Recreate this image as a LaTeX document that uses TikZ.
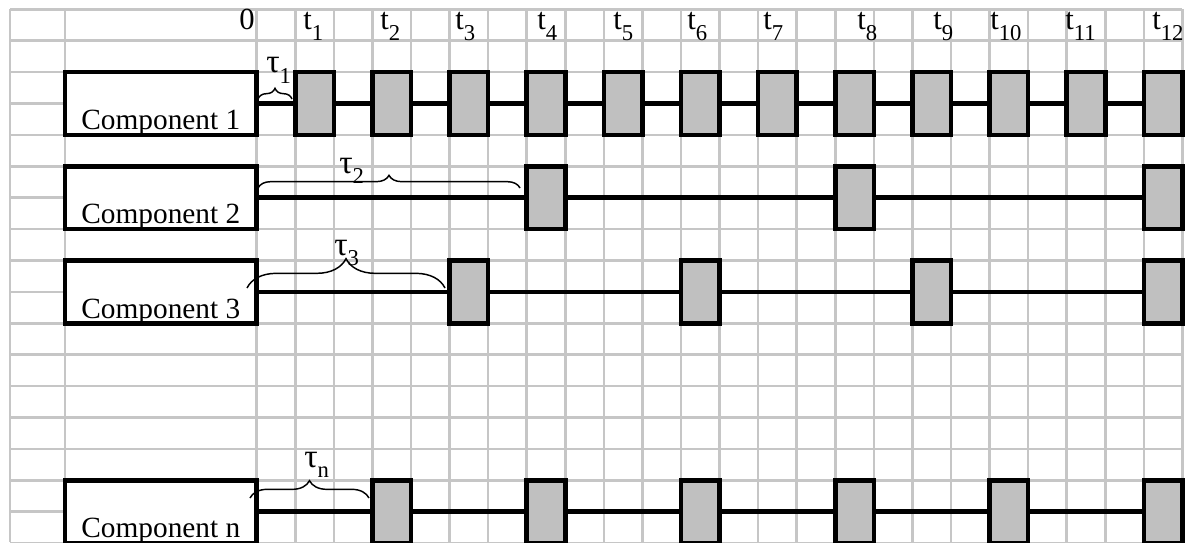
\documentclass[tikz,border=0pt]{standalone}
\usepackage{fontspec}
\setmainfont{Liberation Serif}
\usepackage{tikz}
\usetikzlibrary{decorations.pathreplacing,backgrounds,calc}
\definecolor{gridgray}{RGB}{198,198,198}
\definecolor{slotgray}{RGB}{192,192,192}
\newcommand{\lowsub}[1]{\raisebox{-8pt}{\fontsize{17}{17}\selectfont #1}}
\tikzset{
  gridline/.style ={draw=gridgray, line width=1.9pt},
  compbox/.style  ={draw, fill=white, line width=3.4pt, inner sep=0pt,
                    minimum width=143.8pt, minimum height=47.1pt},
  complabel/.style={anchor=base, inner sep=0pt,
                    font=\fontsize{22}{26}\selectfont},
  slotbox/.style  ={draw, fill=slotgray, line width=3.4pt, inner sep=0pt,
                    minimum width=28.93pt, minimum height=47.1pt},
  timelabel/.style={anchor=base west, inner sep=0pt,
                    font=\fontsize{23}{26}\selectfont},
  taulabel/.style ={anchor=base west, inner sep=0pt,
                    font=\fontsize{25}{28}\selectfont},
  link/.style     ={line width=3.6pt},
  gap/.style      ={decorate, decoration={brace, amplitude=#1}, line width=1.1pt},
}

\begin{document}
\begin{tikzpicture}[x=0.75pt,y=-0.75pt]
  \useasboundingbox (0,0) rectangle (1194,542);
  %% components
  \node[compbox] (comp1) at (160.85,103.5) {};
  \node[compbox] (comp2) at (160.85,197.7) {};
  \node[compbox] (comp3) at (160.85,291.9) {};
  \node[compbox] (compn) at (160.85,511.7) {};
  \node[complabel] (name1) at ([yshift=5.6pt]comp1.south) {Component 1};
  \node[complabel] (name2) at ([yshift=5.6pt]comp2.south) {Component 2};
  \node[complabel] (name3) at ([yshift=5.6pt]comp3.south) {Component 3};
  \node[complabel] (namen) at ([yshift=6pt]compn.south) {Component n};
  %% maintenance slots
  \foreach \i in {1,...,12}
    \node[slotbox] (a\i) at ({256.7+38.57*(2*\i-0.5)},103.5) {};
  \foreach \i in {4,8,12}
    \node[slotbox] (b\i) at ({256.7+38.57*(2*\i-0.5)},197.7) {};
  \foreach \i in {3,6,9,12}
    \node[slotbox] (c\i) at ({256.7+38.57*(2*\i-0.5)},291.9) {};
  \foreach \i in {2,4,...,12}
    \node[slotbox] (n\i) at ({256.7+38.57*(2*\i-0.5)},511.7) {};
  %% time axis
  \node[timelabel, anchor=base east] (zero) at (255,30) {0};
  \foreach \xx/\i in {303/1,380/2,455/3,537/4,613/5,687/6,763/7,857/8,933/9,990/10,1065/11,1152/12}
    \node[timelabel] (t\i) at (\xx,30) {t\lowsub{\i}};
  %% offsets
  \coordinate (g1a) at (258,99);  \coordinate (g1b) at (292,99);
  \coordinate (g2a) at (258,188); \coordinate (g2b) at (520,188);
  \coordinate (g3a) at (247,288); \coordinate (g3b) at (445,288);
  \coordinate (gna) at (250,498); \coordinate (gnb) at (369,498);
  \draw[gap=8pt]  (g1a) -- (g1b);
  \draw[gap=9.5pt]  (g2a) -- (g2b);
  \draw[gap=22pt] (g3a) -- (g3b);
  \draw[gap=13pt] (gna) -- (gnb);
  \node[taulabel] (tau1) at (266,73)  {τ\lowsub{1}};
  \node[taulabel] (tau2) at (339,173) {τ\lowsub{2}};
  \node[taulabel] (tau3) at (334,255) {τ\lowsub{3}};
  \node[taulabel] (taun) at (304,467) {τ\lowsub{n}};
  \begin{scope}[on background layer]
    %% grid
    \foreach \j in {0,...,17}
      \draw[gridline] (10,{9.3+31.4*\j}) -- (1182.4,{9.3+31.4*\j});
    \foreach \xx in {10,65}
      \draw[gridline] (\xx,9.3) -- (\xx,542);
    \foreach \k in {0,...,24}
      \draw[gridline] ({256.7+38.57*\k},9.3) -- ({256.7+38.57*\k},542);
    \draw[link] (comp1) -- (a12);
    \draw[link] (comp2) -- (b12);
    \draw[link] (comp3) -- (c12);
    \draw[link] (compn) -- (n12);
  \end{scope}
\end{tikzpicture}
\end{document}
